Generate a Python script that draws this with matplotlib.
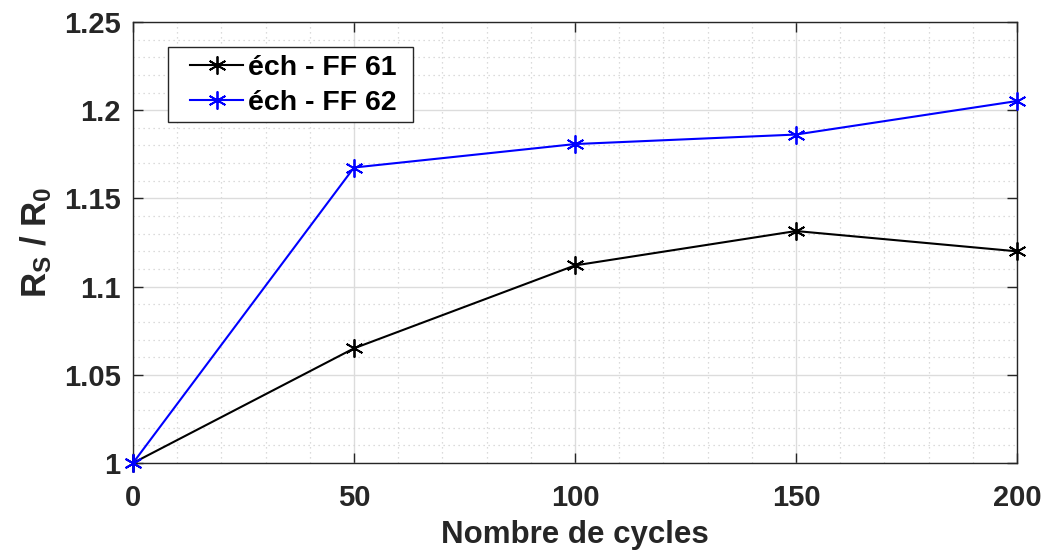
import matplotlib
matplotlib.use("Agg")
import matplotlib.pyplot as plt
from matplotlib.ticker import MultipleLocator
from matplotlib.patches import Rectangle

plt.rcParams['font.family'] = ['Liberation Sans', 'DejaVu Sans']
plt.rcParams['font.weight'] = 'bold'
plt.rcParams['mathtext.fontset'] = 'custom'
plt.rcParams['mathtext.rm'] = 'Liberation Sans:bold'
plt.rcParams['mathtext.bf'] = 'Liberation Sans:bold'
plt.rcParams['mathtext.it'] = 'Liberation Sans:bold'

cycles = [0, 50, 100, 150, 200]
ff61 = [1.0, 1.065, 1.112, 1.1315, 1.120]
ff62 = [1.0, 1.1675, 1.1808, 1.1862, 1.2052]
labels = ['éch - FF 61', 'éch - FF 62']

W, H = 1045, 555
fig = plt.figure(figsize=(W/100, H/100), dpi=100)
ax = fig.add_axes([133/W, 1-463/H, (1017-133)/W, (463-22)/H])

tc = '#262626'
ast = (6, 2, 0)
ax.plot(cycles, ff61, color='black', marker=ast, markersize=13, lw=1.5,
        markeredgewidth=1.3, label=labels[0], clip_on=False, zorder=3)
ax.plot(cycles, ff62, color='#0000ff', marker=ast, markersize=13, lw=1.5,
        markeredgewidth=1.3, label=labels[1], clip_on=False, zorder=4)

ax.set_xlim(0, 200)
ax.set_ylim(1.0, 1.25)
ax.xaxis.set_minor_locator(MultipleLocator(10))
ax.yaxis.set_minor_locator(MultipleLocator(0.01))
ax.set_xticks(cycles)
ax.set_xticklabels(['0', '50', '100', '150', '200'])
ax.set_yticks([1.0, 1.05, 1.1, 1.15, 1.2, 1.25])
ax.set_yticklabels(['1', '1.05', '1.1', '1.15', '1.2', '1.25'])

ax.grid(which='major', color='#dcdcdc', lw=1.0, ls='-')
ax.grid(which='minor', color='#d0d0d0', lw=0.9, ls=(0, (1, 3)))
ax.set_axisbelow(True)

ax.tick_params(which='major', direction='in', length=7, width=1, top=True, right=True,
               labelsize=21, colors=tc)
ax.tick_params(axis='x', which='major', pad=15)
ax.tick_params(axis='y', which='major', pad=9)
ax.tick_params(which='minor', length=0)
for s in ax.spines.values():
    s.set_color(tc)
    s.set_linewidth(1.0)

ax.set_xlabel('Nombre de cycles', fontsize=22.5, fontweight='bold', color=tc, labelpad=6)
ax.set_ylabel(r'$\mathregular{R_S}$ / $\mathregular{R_0}$', fontsize=25, fontweight='bold', color=tc)
ax.yaxis.set_label_coords(-(133-54)/884, 0.5)

leg = ax.legend(loc='upper left', bbox_to_anchor=(190/W, 1-55/H), bbox_transform=fig.transFigure,
                fontsize=20.5, frameon=False, handlelength=1.87, handletextpad=0.15,
                borderpad=0, labelspacing=0.3, borderaxespad=0)
for t in leg.get_texts():
    t.set_fontweight('bold')
rect = Rectangle((168/W, 1-122/H), (413-168)/W, (122-47)/H,
                 transform=fig.transFigure, fill=True, facecolor='white',
                 edgecolor=tc, lw=1.0, zorder=5, clip_on=False)
ax.add_artist(rect)
leg.set_zorder(6)

fig.savefig('out.png', dpi=100)
